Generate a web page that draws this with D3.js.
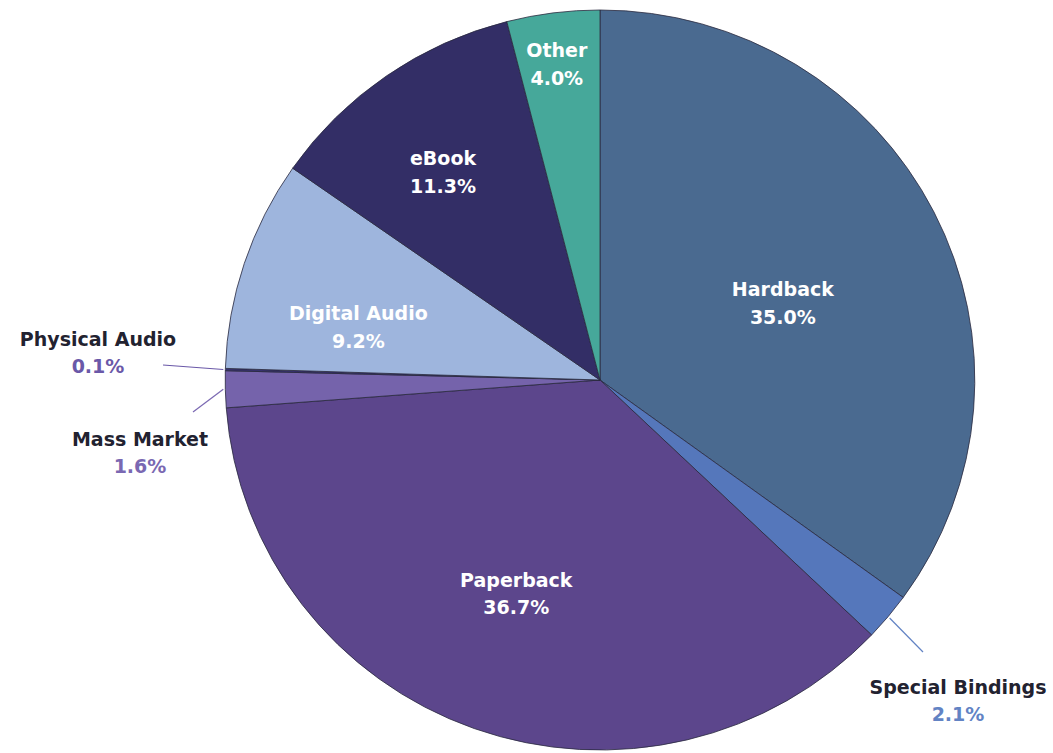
<!DOCTYPE html>
<html>
<head>
<meta charset="utf-8">
<script src="https://cdn.jsdelivr.net/npm/d3@7"></script>
<style>
  body { margin: 0; background: #fff; }
  svg text { font-family: "DejaVu Sans", Verdana, sans-serif; font-weight: bold; }
</style>
</head>
<body>
<div id="graphic"></div>
<script>
// data, clockwise from 12 o'clock
var categories = ['Hardback', 'Special Bindings', 'Paperback', 'Mass Market',
  'Physical Audio', 'Digital Audio', 'eBook', 'Other'];
var shares = [35.0, 2.1, 36.7, 1.6, 0.1, 9.2, 11.3, 4.0];
var colours = ['#4a6a90', '#5577bb', '#5c468c', '#7563ab',
  '#37326e', '#9eb5dd', '#332e66', '#46a89a'];
var valueColours = ['#fff', '#6283c4', '#fff', '#7a68b2', '#6a58a8', '#fff', '#fff', '#fff'];

// label layout: inside labels use radius fraction + angle nudge,
// outside labels use a fixed text spot and the far end of the leader
var labelLayout = {
  'Hardback': { r: 0.53, da: 4 },
  'Paperback': { r: 0.62, da: 1.5 },
  'Digital Audio': { r: 0.66, da: -6 },
  'eBook': { r: 0.70, da: -2 },
  'Other': { r: 0.86, da: -0.5 },
  'Physical Audio': { out: [98, 353], lineEnd: [163, 365] },
  'Mass Market': { out: [140, 453], lineEnd: [193, 412] },
  'Special Bindings': { out: [958, 701], lineEnd: [923, 652] }
};

var width = 1053, height = 753;
var cx = 600, cy = 380, radius = 370;

var data = categories.map((c, i) => ({ name: c, value: shares[i], colour: colours[i], vcol: valueColours[i] }));

var svg = d3.select('#graphic').append('svg')
  .attr('width', width).attr('height', height);

var pie = d3.pie().sort(null).value((d) => d.value);
var arc = d3.arc().innerRadius(0).outerRadius(radius);
var arcs = pie(data);

var g = svg.append('g')
  .attr('transform', 'translate(' + cx + ',' + cy + ') scale(1.013,1)');

g.selectAll('path.slice')
  .data(arcs)
  .join('path')
  .attr('class', 'slice')
  .attr('d', arc)
  .attr('fill', (d) => d.data.colour)
  .attr('stroke', '#2a2a40')
  .attr('stroke-width', 0.8)
  .attr('stroke-linejoin', 'round');

function polar(angle, r) {
  return [cx + Math.sin(angle) * r * 1.013, cy - Math.cos(angle) * r];
}

var labels = svg.append('g');

arcs.forEach(function (d) {
  var lay = labelLayout[d.data.name];
  var mid = (d.startAngle + d.endAngle) / 2;
  var pos, nameFill;
  if (lay.out) {
    var edge = polar(mid, radius + 2);
    labels.append('line')
      .attr('x1', lay.lineEnd[0]).attr('y1', lay.lineEnd[1])
      .attr('x2', edge[0]).attr('y2', edge[1])
      .attr('stroke', d.data.vcol).attr('stroke-width', 1.2);
    pos = lay.out;
    nameFill = '#222230';
  } else {
    pos = polar(mid + lay.da * Math.PI / 180, radius * lay.r);
    nameFill = '#fff';
  }
  var t = labels.append('text')
    .attr('x', pos[0]).attr('y', pos[1])
    .attr('text-anchor', 'middle')
    .style('font-size', '19px');
  t.append('tspan').attr('x', pos[0]).attr('dy', '-0.39em').attr('fill', nameFill).text(d.data.name);
  t.append('tspan').attr('x', pos[0]).attr('dy', '1.45em').attr('fill', d.data.vcol)
    .text(d3.format('.1f')(d.data.value) + '%');
});
</script>
</body>
</html>
